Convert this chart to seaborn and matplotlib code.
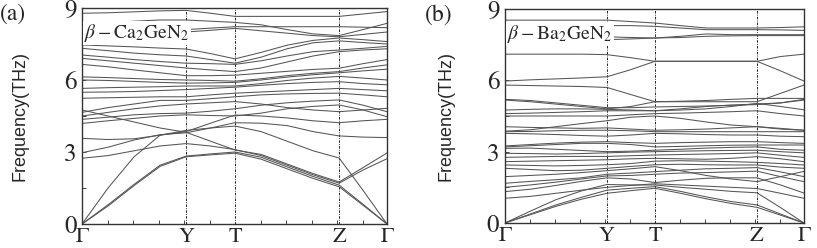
import numpy as np
import pandas as pd
import matplotlib
matplotlib.use("Agg")
import matplotlib.pyplot as plt
from matplotlib.ticker import MultipleLocator
import seaborn as sns

# k-path sample positions: G, 3 pts, Y, 1 pt, T, 3 pts, Z, 1 pt, G
kpath = [0, 0.25, 0.5, 0.75, 1.0, 1.235, 1.47, 1.72, 1.97, 2.22, 2.47, 2.70, 2.93]
ktick_pos = [0, 1.0, 1.47, 2.47, 2.93]
ktick_lab = ["Γ", "Y", "T", "Z", "Γ"]

# beta-Ca2GeN2 phonon bands (THz)
bands_ca = [
    [0, 0.75, 1.6, 2.4, 2.8, 2.88, 2.95, 2.7, 2.3, 1.9, 1.55, 0.78, 0],
    [0, 0.8, 1.65, 2.45, 2.83, 2.92, 3.0, 2.78, 2.38, 1.98, 1.62, 0.82, 0],
    [0, 1.5, 2.8, 3.7, 3.9, 4.0, 4.08, 3.85, 3.45, 3.05, 2.75, 1.4, 0],
    [2.74, 2.85, 3.05, 3.25, 3.35, 3.25, 3.1, 2.85, 2.45, 2.05, 1.7, 2.25, 2.72],
    [2.97, 3.2, 3.5, 3.72, 3.8, 4.0, 4.22, 4.2, 4.1, 3.85, 3.67, 3.62, 3.6],
    [3.57, 3.52, 3.55, 3.7, 3.85, 4.2, 4.54, 4.5, 4.42, 4.3, 4.22, 4.3, 4.36],
    [4.75, 4.5, 4.25, 4.0, 3.82, 3.45, 3.08, 2.9, 2.5, 2.1, 1.75, 2.35, 2.96],
    [4.19, 4.3, 4.4, 4.5, 4.55, 4.52, 4.5, 4.62, 4.8, 4.9, 4.96, 4.75, 4.47],
    [4.36, 4.45, 4.55, 4.6, 4.62, 4.7, 4.8, 4.95, 5.05, 5.12, 5.17, 4.95, 4.68],
    [4.5, 4.65, 4.8, 4.92, 5.0, 5.05, 5.1, 5.0, 4.85, 4.75, 4.68, 4.75, 4.82],
    [4.65, 4.85, 5.0, 5.15, 5.15, 5.22, 5.3, 5.38, 5.42, 5.44, 5.45, 5.38, 5.3],
    [5.24, 5.26, 5.28, 5.3, 5.3, 5.38, 5.45, 5.5, 5.55, 5.6, 5.65, 5.6, 5.55],
    [5.49, 5.5, 5.52, 5.56, 5.6, 5.65, 5.7, 5.78, 5.85, 5.9, 5.93, 5.85, 5.8],
    [5.65, 5.68, 5.7, 5.72, 5.75, 5.75, 5.75, 5.85, 5.98, 6.08, 6.15, 6.08, 6.0],
    [6.0, 5.98, 5.94, 5.9, 5.87, 5.88, 5.9, 6.0, 6.12, 6.22, 6.3, 6.38, 6.45],
    [6.13, 6.1, 6.06, 6.02, 6.0, 5.98, 5.95, 6.05, 6.18, 6.28, 6.35, 6.5, 6.63],
    [6.65, 6.55, 6.42, 6.3, 6.18, 6.18, 6.2, 6.28, 6.36, 6.44, 6.49, 6.68, 6.85],
    [6.9, 6.8, 6.7, 6.6, 6.5, 6.42, 6.35, 6.5, 6.75, 7.0, 7.18, 7.25, 7.3],
    [7.04, 6.95, 6.85, 6.77, 6.7, 6.68, 6.65, 6.8, 7.0, 7.18, 7.25, 7.32, 7.4],
    [7.32, 7.22, 7.12, 7.05, 7.0, 6.85, 6.7, 6.95, 7.3, 7.55, 7.63, 7.56, 7.5],
    [7.46, 7.42, 7.38, 7.33, 7.29, 7.1, 6.88, 7.15, 7.45, 7.65, 7.75, 7.68, 7.6],
    [8.05, 8.03, 8.01, 8.0, 8.0, 8.07, 8.15, 8.05, 7.95, 7.85, 7.8, 7.9, 8.0],
    [8.15, 8.13, 8.11, 8.1, 8.1, 8.16, 8.22, 8.22, 8.22, 8.22, 8.22, 8.2, 8.18],
    [8.3, 8.38, 8.45, 8.5, 8.5, 8.45, 8.4, 8.3, 8.1, 7.92, 7.85, 8.1, 8.36],
    [8.78, 8.8, 8.84, 8.88, 8.9, 8.78, 8.65, 8.65, 8.65, 8.65, 8.65, 8.75, 8.85],
]

# beta-Ba2GeN2 phonon bands (THz)
bands_ba = [
    [0, 0.35, 0.7, 1.0, 1.25, 1.36, 1.46, 1.25, 1.02, 0.82, 0.66, 0.33, 0],
    [0, 0.38, 0.76, 1.08, 1.38, 1.46, 1.53, 1.33, 1.1, 0.9, 0.76, 0.38, 0],
    [0, 0.5, 0.98, 1.35, 1.62, 1.6, 1.6, 1.5, 1.42, 1.33, 1.27, 0.65, 0],
    [1.04, 1.12, 1.25, 1.38, 1.5, 1.58, 1.65, 1.6, 1.55, 1.5, 1.45, 1.25, 1.04],
    [1.32, 1.42, 1.58, 1.75, 1.9, 1.85, 1.7, 1.8, 1.88, 1.9, 1.9, 1.6, 1.26],
    [1.5, 1.6, 1.72, 1.85, 1.98, 2.0, 2.05, 2.1, 2.12, 2.15, 2.18, 1.95, 1.74],
    [1.67, 1.75, 1.82, 1.9, 2.05, 2.1, 2.16, 2.22, 2.28, 2.3, 2.33, 2.15, 1.95],
    [1.95, 2.0, 2.05, 2.12, 2.2, 2.28, 2.37, 2.2, 2.0, 1.85, 1.74, 1.95, 2.17],
    [2.3, 2.25, 2.2, 2.22, 2.3, 2.38, 2.45, 2.47, 2.45, 2.44, 2.44, 2.35, 2.3],
    [2.44, 2.42, 2.4, 2.42, 2.45, 2.5, 2.6, 2.62, 2.6, 2.58, 2.55, 2.5, 2.44],
    [2.58, 2.6, 2.62, 2.64, 2.66, 2.7, 2.72, 2.7, 2.68, 2.72, 2.79, 2.7, 2.58],
    [2.76, 2.78, 2.8, 2.8, 2.8, 2.83, 2.86, 2.88, 2.9, 2.92, 2.95, 2.85, 2.76],
    [2.93, 2.92, 2.9, 2.92, 2.95, 2.98, 3.0, 3.02, 3.04, 3.05, 3.06, 3.0, 2.95],
    [3.14, 3.15, 3.1, 3.05, 3.0, 3.02, 3.06, 3.1, 3.15, 3.18, 3.2, 3.1, 3.06],
    [3.2, 3.25, 3.3, 3.35, 3.35, 3.3, 3.2, 3.22, 3.25, 3.27, 3.28, 3.28, 3.28],
    [3.24, 3.3, 3.36, 3.4, 3.42, 3.38, 3.35, 3.38, 3.4, 3.42, 3.42, 3.38, 3.35],
    [3.77, 3.75, 3.72, 3.68, 3.65, 3.7, 3.77, 3.75, 3.72, 3.7, 3.7, 3.65, 3.63],
    [3.84, 3.85, 3.88, 3.9, 3.9, 3.88, 3.84, 3.84, 3.84, 3.84, 3.84, 3.84, 3.84],
    [4.05, 4.02, 4.0, 3.98, 4.0, 3.95, 3.9, 3.92, 3.95, 4.0, 4.05, 3.95, 3.9],
    [3.86, 3.92, 4.05, 4.18, 4.3, 4.45, 4.5, 4.4, 4.25, 4.12, 4.05, 3.98, 3.9],
    [4.5, 4.5, 4.5, 4.5, 4.5, 4.55, 4.6, 4.62, 4.65, 4.68, 4.72, 4.6, 4.5],
    [4.6, 4.62, 4.65, 4.68, 4.72, 4.72, 4.72, 4.8, 4.9, 4.96, 5.0, 5.05, 5.17],
    [4.75, 4.78, 4.8, 4.8, 4.78, 4.75, 4.72, 4.75, 4.8, 4.9, 5.03, 4.9, 4.76],
    [5.17, 5.1, 5.0, 4.9, 4.8, 4.9, 5.1, 5.12, 5.15, 5.2, 5.24, 5.24, 5.24],
    [5.2, 5.15, 5.05, 4.95, 4.85, 4.85, 4.88, 4.9, 4.92, 4.95, 4.98, 5.05, 5.2],
    [5.8, 5.78, 5.76, 5.74, 5.7, 5.4, 5.1, 5.1, 5.1, 5.1, 5.1, 5.45, 5.8],
    [5.97, 6.02, 6.06, 6.1, 6.15, 6.45, 6.8, 6.8, 6.8, 6.8, 6.8, 6.4, 5.97],
    [7.1, 7.1, 7.1, 7.1, 7.08, 6.95, 6.8, 6.8, 6.8, 6.8, 6.8, 7.0, 7.1],
    [7.73, 7.73, 7.72, 7.71, 7.71, 7.74, 7.78, 7.8, 7.85, 7.87, 7.88, 7.88, 7.88],
    [7.83, 7.83, 7.83, 7.83, 7.83, 7.8, 7.78, 7.85, 7.95, 7.92, 7.92, 7.92, 7.92],
    [8.3, 8.3, 8.3, 8.3, 8.3, 8.3, 8.27, 8.2, 8.13, 8.13, 8.13, 8.12, 8.1],
    [8.53, 8.53, 8.53, 8.53, 8.53, 8.47, 8.41, 8.3, 8.2, 8.2, 8.2, 8.22, 8.25],
]

panel_tags = ["(a)", "(b)"]
compounds = [r"$\beta-\mathrm{Ca_2GeN_2}$", r"$\beta-\mathrm{Ba_2GeN_2}$"]
yticks = [0, 3, 6, 9]
ylabel_x = [-0.177, -0.167]


def to_frame(bands):
    rows = []
    for i, b in enumerate(bands):
        for k, f in zip(kpath, b):
            rows.append((i, k, f))
    return pd.DataFrame(rows, columns=["band", "k", "freq"])


sns.set_style("ticks")
plt.rcParams["font.family"] = ["STIXGeneral", "DejaVu Serif"]
plt.rcParams["mathtext.fontset"] = "stix"

fig = plt.figure(figsize=(8.17, 2.48), dpi=100)
ax_a = fig.add_axes([0.1004, 0.0968, 0.3733, 0.871])
ax_b = fig.add_axes([0.618, 0.1008, 0.366, 0.863])

for ax, bands, tag, name, lx in zip([ax_a, ax_b], [bands_ca, bands_ba],
                                    panel_tags, compounds, ylabel_x):
    df = to_frame(bands)
    sns.lineplot(data=df, x="k", y="freq", units="band", estimator=None,
                 color="#555555", lw=0.75, ax=ax, legend=False)
    for xv in ktick_pos[1:-1]:
        ax.axvline(xv, color="black", lw=0.6, ls=(0, (3, 1.5, 1, 1.5)), zorder=1)
    ax.set_xlim(kpath[0], kpath[-1])
    ax.set_ylim(0, 9)
    ax.set_xticks(ktick_pos)
    ax.set_xticklabels(ktick_lab, fontsize=16)
    ax.set_yticks(yticks)
    ax.set_yticklabels([str(v) for v in yticks], fontsize=18)
    ax.yaxis.set_minor_locator(MultipleLocator(1.5))
    ax.xaxis.set_minor_locator(MultipleLocator(0.245))
    ax.tick_params(which="both", direction="in", length=3, width=0.6)
    ax.tick_params(axis="y", which="major", pad=4)
    ax.tick_params(axis="x", which="major", length=0, pad=2.5)
    ax.set_xlabel("")
    ax.set_ylabel("Frequency(THz)", family=["Liberation Sans", "DejaVu Sans"],
                  fontsize=13)
    ax.yaxis.set_label_coords(lx, 0.5)
    for sp in ax.spines.values():
        sp.set_linewidth(1.0)
        sp.set_color("#333333")
    ax.text(0.008, 0.935, name, transform=ax.transAxes, fontsize=14,
            va="top", ha="left", zorder=5,
            bbox=dict(facecolor="white", edgecolor="none", pad=1.0))
    ax.text(-0.268, 1.02, tag, transform=ax.transAxes, fontsize=17,
            va="top", ha="left")

fig.savefig("out.png", dpi=100)
